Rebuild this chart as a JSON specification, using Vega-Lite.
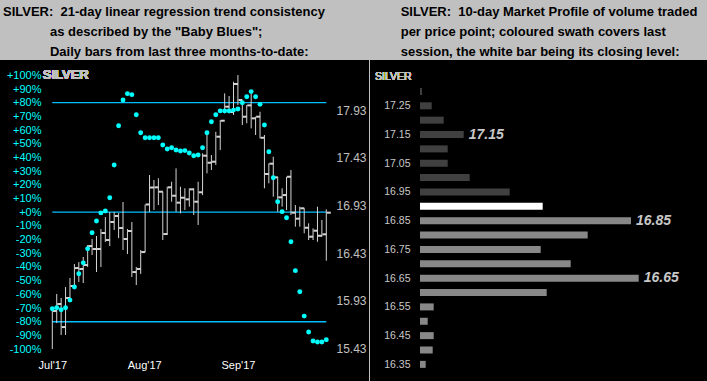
{
  "$schema": "https://vega.github.io/schema/vega-lite/v6.json",
  "background": "#c0c0c0",
  "padding": {"top": 6, "left": 0, "right": 0, "bottom": 0},
  "spacing": 1,
  "config": {
    "font": "Liberation Sans",
    "view": {"fill": "#000000", "stroke": null},
    "axis": {"grid": false, "domain": false, "ticks": false, "tickSize": 0, "labelFont": "Liberation Sans", "labelOverlap": false}
  },
  "datasets": {
    "bars": [
      {"i": 0, "h": 15.853, "l": 15.423, "c": 15.821, "b": -70.5},
      {"i": 1, "h": 16.000, "l": 15.695, "c": 15.895, "b": -69.8},
      {"i": 2, "h": 15.958, "l": 15.570, "c": 15.653, "b": -71.2},
      {"i": 3, "h": 16.073, "l": 15.570, "c": 15.958, "b": -69.8},
      {"i": 4, "h": 16.168, "l": 15.937, "c": 16.084, "b": -64.2},
      {"i": 5, "h": 16.314, "l": 16.073, "c": 16.272, "b": -54.6},
      {"i": 6, "h": 16.335, "l": 16.126, "c": 16.262, "b": -45.0},
      {"i": 7, "h": 16.388, "l": 16.115, "c": 16.304, "b": -37.0},
      {"i": 8, "h": 16.514, "l": 16.283, "c": 16.503, "b": -26.7},
      {"i": 9, "h": 16.577, "l": 16.409, "c": 16.472, "b": -15.0},
      {"i": 10, "h": 16.608, "l": 16.230, "c": 16.472, "b": -6.4},
      {"i": 11, "h": 16.682, "l": 16.283, "c": 16.640, "b": -0.5},
      {"i": 12, "h": 16.807, "l": 16.545, "c": 16.566, "b": 0.9},
      {"i": 13, "h": 16.860, "l": 16.503, "c": 16.755, "b": 10.6},
      {"i": 14, "h": 16.860, "l": 16.671, "c": 16.818, "b": 34.5},
      {"i": 15, "h": 16.849, "l": 16.587, "c": 16.692, "b": 63.2},
      {"i": 16, "h": 16.965, "l": 16.461, "c": 16.577, "b": 82.0},
      {"i": 17, "h": 16.682, "l": 16.419, "c": 16.661, "b": 86.6},
      {"i": 18, "h": 16.755, "l": 16.178, "c": 16.230, "b": 85.9},
      {"i": 19, "h": 16.283, "l": 16.094, "c": 16.262, "b": 71.2},
      {"i": 20, "h": 16.461, "l": 16.210, "c": 16.440, "b": 58.1},
      {"i": 21, "h": 16.939, "l": 16.440, "c": 16.939, "b": 54.4},
      {"i": 22, "h": 17.248, "l": 16.860, "c": 17.117, "b": 54.4},
      {"i": 23, "h": 17.196, "l": 16.881, "c": 17.119, "b": 54.4},
      {"i": 24, "h": 17.214, "l": 16.933, "c": 17.073, "b": 54.4},
      {"i": 25, "h": 17.073, "l": 16.566, "c": 16.629, "b": 49.1},
      {"i": 26, "h": 17.125, "l": 16.619, "c": 17.119, "b": 46.2},
      {"i": 27, "h": 17.178, "l": 16.968, "c": 17.031, "b": 47.1},
      {"i": 28, "h": 17.318, "l": 16.863, "c": 16.958, "b": 45.5},
      {"i": 29, "h": 17.125, "l": 16.846, "c": 17.010, "b": 44.7},
      {"i": 30, "h": 17.109, "l": 16.881, "c": 16.993, "b": 45.0},
      {"i": 31, "h": 17.109, "l": 16.916, "c": 17.098, "b": 43.3},
      {"i": 32, "h": 17.109, "l": 16.829, "c": 16.968, "b": 41.3},
      {"i": 33, "h": 17.178, "l": 16.724, "c": 17.067, "b": 41.8},
      {"i": 34, "h": 17.476, "l": 17.038, "c": 17.451, "b": 47.1},
      {"i": 35, "h": 17.686, "l": 17.266, "c": 17.377, "b": 58.1},
      {"i": 36, "h": 17.458, "l": 17.301, "c": 17.388, "b": 66.1},
      {"i": 37, "h": 17.702, "l": 17.353, "c": 17.650, "b": 71.2},
      {"i": 38, "h": 17.825, "l": 17.510, "c": 17.818, "b": 74.0},
      {"i": 39, "h": 18.105, "l": 17.895, "c": 17.965, "b": 74.0},
      {"i": 40, "h": 18.077, "l": 17.895, "c": 17.909, "b": 74.0},
      {"i": 41, "h": 18.227, "l": 17.878, "c": 18.203, "b": 74.6},
      {"i": 42, "h": 18.297, "l": 17.983, "c": 18.035, "b": 75.4},
      {"i": 43, "h": 17.983, "l": 17.773, "c": 17.860, "b": 80.0},
      {"i": 44, "h": 17.983, "l": 17.791, "c": 17.979, "b": 84.4},
      {"i": 45, "h": 18.105, "l": 17.738, "c": 17.843, "b": 88.1},
      {"i": 46, "h": 17.860, "l": 17.668, "c": 17.860, "b": 84.4},
      {"i": 47, "h": 17.912, "l": 17.633, "c": 17.639, "b": 78.8},
      {"i": 48, "h": 17.668, "l": 17.109, "c": 17.259, "b": 63.7},
      {"i": 49, "h": 17.371, "l": 17.161, "c": 17.367, "b": 44.2},
      {"i": 50, "h": 17.440, "l": 17.021, "c": 17.224, "b": 25.2},
      {"i": 51, "h": 17.230, "l": 16.863, "c": 17.014, "b": 7.7},
      {"i": 52, "h": 17.109, "l": 16.916, "c": 17.038, "b": 0.4},
      {"i": 53, "h": 17.230, "l": 16.881, "c": 17.230, "b": -4.0},
      {"i": 54, "h": 17.301, "l": 16.829, "c": 16.853, "b": -21.6},
      {"i": 55, "h": 16.933, "l": 16.706, "c": 16.790, "b": -42.7},
      {"i": 56, "h": 16.916, "l": 16.706, "c": 16.899, "b": -58.1},
      {"i": 57, "h": 16.899, "l": 16.637, "c": 16.695, "b": -75.9},
      {"i": 58, "h": 16.741, "l": 16.566, "c": 16.601, "b": -87.5},
      {"i": 59, "h": 16.689, "l": 16.566, "c": 16.664, "b": -94.1},
      {"i": 60, "h": 16.916, "l": 16.548, "c": 16.611, "b": -94.8},
      {"i": 61, "h": 16.776, "l": 16.601, "c": 16.626, "b": -94.8},
      {"i": 62, "h": 16.888, "l": 16.349, "c": 16.853, "b": -93.2}
    ],
    "levels": [{"level": 80}, {"level": 0}, {"level": -80}],
    "profile": [
      {"price": 17.30, "vol": 2, "kind": "prior"},
      {"price": 17.25, "vol": 11.7, "kind": "prior"},
      {"price": 17.20, "vol": 23.7, "kind": "prior"},
      {"price": 17.15, "vol": 43.7, "kind": "prior"},
      {"price": 17.10, "vol": 27.7, "kind": "prior"},
      {"price": 17.05, "vol": 27.7, "kind": "prior"},
      {"price": 17.00, "vol": 49.7, "kind": "prior"},
      {"price": 16.95, "vol": 89.7, "kind": "prior"},
      {"price": 16.90, "vol": 122.7, "kind": "close"},
      {"price": 16.85, "vol": 211, "kind": "last"},
      {"price": 16.80, "vol": 167.7, "kind": "last"},
      {"price": 16.75, "vol": 120.7, "kind": "last"},
      {"price": 16.70, "vol": 150.7, "kind": "last"},
      {"price": 16.65, "vol": 218.7, "kind": "last"},
      {"price": 16.60, "vol": 126.7, "kind": "last"},
      {"price": 16.55, "vol": 13.7, "kind": "last"},
      {"price": 16.50, "vol": 7.7, "kind": "last"},
      {"price": 16.45, "vol": 13.7, "kind": "last"},
      {"price": 16.40, "vol": 12.7, "kind": "last"},
      {"price": 16.35, "vol": 5.7, "kind": "last"}
    ]
  },
  "hconcat": [
    {
      "width": 369,
      "height": 321,
      "title": {
        "text": [
          "SILVER:\u00a0\u00a021-day linear regression trend consistency",
          "\u200b\u00a0\u00a0\u00a0\u00a0\u00a0\u00a0\u00a0\u00a0\u00a0\u00a0\u00a0\u00a0\u00a0as described by the \"Baby Blues\";",
          "\u200b\u00a0\u00a0\u00a0\u00a0\u00a0\u00a0\u00a0\u00a0\u00a0\u00a0\u00a0\u00a0\u00a0Daily bars from last three months-to-date:"
        ],
        "anchor": "start", "frame": "group", "dx": 3, "offset": 1,
        "font": "Liberation Sans", "fontSize": 13, "fontWeight": "bold",
        "color": "#000000", "lineHeight": 20, "baseline": "top"
      },
      "data": {"name": "bars"},
      "layer": [
        {
          "data": {"name": "levels"},
          "mark": {"type": "rule", "color": "#00bfff", "strokeWidth": 1.3},
          "encoding": {
            "x": {"datum": 0, "type": "quantitative",
                  "scale": {"domain": [-11.835, 71.66], "nice": false, "zero": false},
                  "axis": {"orient": "bottom", "offset": -24, "labelPadding": 2,
                           "values": [0, 20.8, 42], "tickCount": 100,
                           "labelExpr": "datum.value < 10 ? \"Jul'17\" : (datum.value < 30 ? \"Aug'17\" : \"Sep'17\")",
                           "labelColor": "#ffffff", "labelFontSize": 11, "labelFlush": false,
                           "labelOverlap": false, "title": null}},
            "x2": {"datum": 62},
            "y": {"field": "level", "type": "quantitative",
                  "scale": {"domain": [-123.3, 111.2], "nice": false, "zero": false},
                  "axis": {"orient": "left", "offset": -43, "labelPadding": 2,
                           "values": [-100, -90, -80, -70, -60, -50, -40, -30, -20, -10, 0, 10, 20, 30, 40, 50, 60, 70, 80, 90, 100],
                           "tickCount": 100,
                           "labelExpr": "(datum.value > -1 ? '+' : '') + datum.value + '%'",
                           "labelColor": "#00ffff", "labelFontSize": 11, "labelOverlap": false,
                           "labelFlush": false, "title": null}}
          }
        },
        {
          "mark": {"type": "rule", "color": "#d4d4d4", "strokeWidth": 1},
          "encoding": {
            "x": {"field": "i", "type": "quantitative"},
            "y": {"field": "l", "type": "quantitative",
                  "scale": {"domain": [15.087, 18.455], "nice": false, "zero": false},
                  "axis": {"orient": "right", "offset": -35, "labelPadding": 2,
                           "values": [15.43, 15.93, 16.43, 16.93, 17.43, 17.93], "tickCount": 100,
                           "format": ".2f", "labelColor": "#c0c0c0", "labelFontSize": 12,
                           "labelOverlap": false, "labelFlush": false, "title": null}},
            "y2": {"field": "h"}
          }
        },
        {
          "mark": {"type": "tick", "orient": "horizontal", "color": "#d4d4d4", "size": 4, "thickness": 2, "xOffset": 2.5, "opacity": 1},
          "encoding": {
            "x": {"field": "i", "type": "quantitative"},
            "y": {"field": "c", "type": "quantitative",
                  "scale": {"domain": [15.087, 18.455], "nice": false, "zero": false},
                  "axis": null}
          }
        },
        {
          "mark": {"type": "point", "filled": true, "shape": "circle", "size": 24, "color": "#00ffff", "opacity": 1},
          "encoding": {
            "x": {"field": "i", "type": "quantitative"},
            "y": {"field": "b", "type": "quantitative",
                  "scale": {"domain": [-123.3, 111.2], "nice": false, "zero": false},
                  "axis": null}
          }
        },
        {
          "mark": {"type": "text", "text": "SILVER", "font": "Liberation Sans", "fontWeight": "bold", "fontSize": 13, "color": "#c0c0c0", "align": "left", "baseline": "middle"},
          "encoding": {
            "x": {"datum": -2.17, "type": "quantitative"},
            "y": {"datum": 100, "type": "quantitative",
                  "scale": {"domain": [-123.3, 111.2], "nice": false, "zero": false},
                  "axis": null}
          }
        }
      ],
      "resolve": {"scale": {"y": "independent"}, "axis": {"y": "independent"}}
    },
    {
      "width": 337,
      "height": 321,
      "title": {
        "text": [
          "SILVER:\u00a0\u00a010-day Market Profile of volume traded",
          "per price point; coloured swath covers last",
          "session, the white bar being its closing level:"
        ],
        "anchor": "start", "frame": "group", "dx": 30.7, "offset": 1,
        "font": "Liberation Sans", "fontSize": 13, "fontWeight": "bold",
        "color": "#000000", "lineHeight": 20, "baseline": "top"
      },
      "data": {"name": "profile"},
      "layer": [
        {
          "mark": {"type": "bar", "orient": "horizontal", "height": 7},
          "encoding": {
            "x": {"field": "vol", "type": "quantitative",
                  "scale": {"domain": [-50, 287], "nice": false, "zero": false}, "axis": null},
            "x2": {"datum": 0},
            "y": {"field": "price", "type": "quantitative",
                  "scale": {"domain": [16.3095, 17.392], "nice": false, "zero": false},
                  "axis": {"orient": "left", "offset": -42, "labelPadding": 2,
                           "values": [16.35, 16.45, 16.55, 16.65, 16.75, 16.85, 16.95, 17.05, 17.15, 17.25],
                           "tickCount": 100,
                           "format": ".2f", "labelColor": "#c8c8c8", "labelFontSize": 10.5,
                           "labelOverlap": false, "labelFlush": false, "labelBound": false, "title": null}},
            "color": {"field": "kind", "type": "nominal",
                      "scale": {"domain": ["prior", "close", "last"], "range": ["#404040", "#ffffff", "#888888"]},
                      "legend": null}
          }
        },
        {
          "transform": [{"filter": {"field": "price", "oneOf": [17.15, 16.85, 16.65]}}],
          "mark": {"type": "text", "align": "left", "baseline": "middle", "dx": 5, "font": "Liberation Sans", "fontWeight": "bold", "fontStyle": "italic", "fontSize": 14, "color": "#c8c8c8"},
          "encoding": {
            "x": {"field": "vol", "type": "quantitative"},
            "y": {"field": "price", "type": "quantitative"},
            "text": {"field": "price", "type": "quantitative", "format": ".2f"}
          }
        },
        {
          "mark": {"type": "text", "text": "SILVER", "align": "left", "baseline": "middle", "font": "Liberation Sans", "fontSize": 10.5, "color": "#c0c0c0"},
          "encoding": {
            "x": {"datum": -45, "type": "quantitative"},
            "y": {"datum": 17.35, "type": "quantitative"}
          }
        }
      ]
    }
  ]
}
